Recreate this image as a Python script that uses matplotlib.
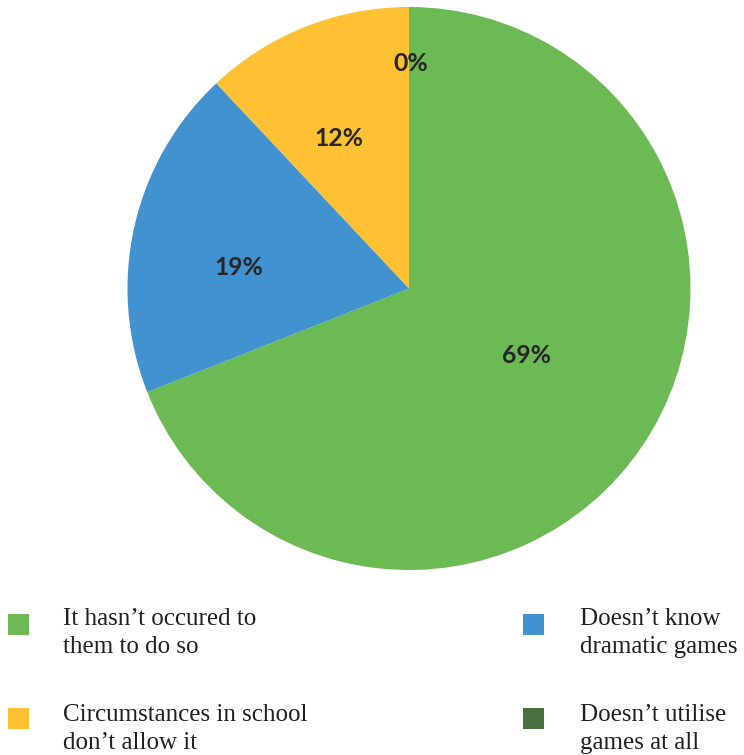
import matplotlib
matplotlib.use("Agg")
import matplotlib.pyplot as plt
import numpy as np
from matplotlib.patches import Rectangle

# Survey answers: why dramatic games are not used
categories = [
    "It hasn’t occured to\nthem to do so",
    "Doesn’t know\ndramatic games",
    "Circumstances in school\ndon’t allow it",
    "Doesn’t utilise\ngames at all",
]
shares = [69, 19, 12, 0]
colors = ["#6BBA53", "#4192CF", "#FEC133", "#4A7040"]

# pie drawing order (clockwise from 12 o'clock): green, blue, yellow, dark green
pie_order = [0, 1, 2, 3]
# label placement: radial fraction and small angular nudge (degrees) per slice
label_dist = [0.48, 0.61, 0.59, 0.80]
label_nudge = [4.4, 5.5, 3.5, -0.5]

W, H = 744, 755
fig = plt.figure(figsize=(W / 100, H / 100), dpi=100)

cx, cy, r = 409.0, 288.5, 281.5
ax = fig.add_axes([(cx - r) / W, (H - cy - r) / H, 2 * r / W, 2 * r / H])
vals = [shares[i] for i in pie_order]
cols = [colors[i] for i in pie_order]
wedges, _ = ax.pie(vals, colors=cols, startangle=90, counterclock=False,
                   radius=1.0, wedgeprops=dict(linewidth=0))
ax.set_xlim(-1, 1)
ax.set_ylim(-1, 1)
ax.axis("off")

for k, w in enumerate(wedges):
    mid = np.deg2rad((w.theta1 + w.theta2) / 2 + label_nudge[k])
    d = label_dist[k]
    ax.text(d * np.cos(mid), d * np.sin(mid), f"{vals[k]}%",
            ha="center", va="center", fontsize=17.8, fontweight="bold",
            family=["Lato", "DejaVu Sans"], color="#262626")

# legend laid out as two columns under the pie
sq = 21
legend_slots = [
    (0, 18.5, 624.5, 63, 625),
    (1, 533.5, 624.5, 580, 625),
    (2, 18.5, 718.5, 63, 721),
    (3, 533.5, 718.5, 580, 721),
]
line_gap = 28
for idx, sx, sy, tx, ty in legend_slots:
    fig.patches.append(Rectangle(((sx - sq / 2) / W, (H - sy - sq / 2) / H),
                                 sq / W, sq / H, transform=fig.transFigure,
                                 facecolor=colors[idx], edgecolor="none"))
    for j, line in enumerate(categories[idx].split("\n")):
        fig.text(tx / W, (H - ty - j * line_gap) / H, line,
                 ha="left", va="baseline", fontsize=18,
                 family=["Liberation Serif", "DejaVu Serif"], color="#231F20")

fig.savefig("out.png", dpi=100)
